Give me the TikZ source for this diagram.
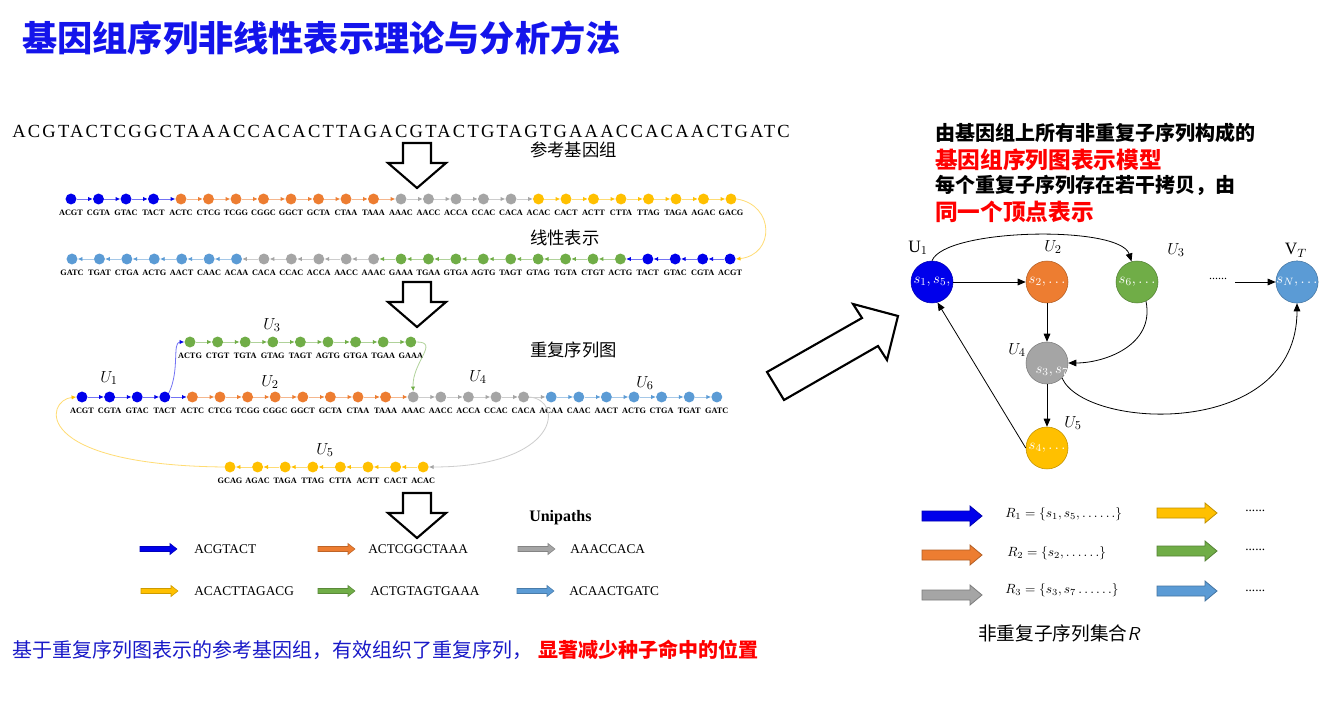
\documentclass[tikz,border=0pt]{standalone}
\usepackage{fontspec}
\setmainfont{Liberation Serif}
\newfontfamily\cjk{Noto Sans CJK SC}
\newfontfamily\seqfont[LetterSpace=12]{Liberation Serif}
\usetikzlibrary{arrows.meta,positioning}

\definecolor{cblue}{RGB}{0,0,235}
\definecolor{corange}{RGB}{237,125,49}
\definecolor{cgray}{RGB}{165,165,165}
\definecolor{cyellow}{RGB}{255,192,0}
\definecolor{cgreen}{RGB}{112,173,71}
\definecolor{clblue}{RGB}{91,155,213}
\definecolor{titleblue}{RGB}{20,20,235}
\definecolor{botblue}{RGB}{25,25,200}

\tikzset{
  kmer/.style={circle, fill=#1, inner sep=0pt, minimum size=8.2pt},
  klab/.style={font=\fontsize{6.2}{7}\selectfont\bfseries, inner sep=0pt},
  kedge/.style={draw=#1!55, line width=0.6pt, -{Latex[length=3.5pt,width=3.2pt,color=#1]}},
  ulab/.style={font=\fontsize{13}{13}\selectfont, inner sep=0pt},
  cjklab/.style={font=\cjk\fontsize{13}{13}\selectfont, inner sep=0pt, anchor=west},
  vnode/.style={circle, minimum size=31.5pt, inner sep=0pt, draw=#1!75!black, fill=#1, text=white, font=\fontsize{11}{11}\selectfont},
  garrow/.style={-{Triangle[length=6pt,width=5pt]}, line width=0.6pt},
  seqtxt/.style={font=\fontsize{10}{10}\selectfont, inner sep=0pt, anchor=west},
  bigdown/.pic={\draw[line width=1.6pt, fill=white] (-14,0) -- (14,0) -- (14,20) -- (29,20) -- (0,45) -- (-29,20) -- (-14,20) -- cycle;},
  uarrow/.pic={\filldraw[fill=#1, draw=#1!80!black, line width=0.4pt] (0,-2.5) -- (30,-2.5) -- (30,-5.5) -- (37,0) -- (30,5.5) -- (30,2.5) -- (0,2.5) -- cycle;},
  rarrow/.pic={\filldraw[fill=#1, draw=#1!75!black, line width=0.6pt] (0,-5) -- (48,-5) -- (48,-10) -- (60,0) -- (48,10) -- (48,5) -- (0,5) -- cycle;}
}

\begin{document}
\begin{tikzpicture}[x=0.75pt,y=-0.75pt]
\useasboundingbox (0,0) rectangle (1332,706);
\fill[white] (0,0) rectangle (1332,706);

% title
\node[anchor=west, inner sep=0pt, font=\cjk\bfseries\fontsize{26.4}{27}\selectfont, text=titleblue] (title) at (22,38) {基因组序列非线性表示理论与分析方法};

% reference genome
\node[anchor=west, inner sep=0pt, font=\seqfont\fontsize{13.9}{14}\selectfont] (seq) at (12,131) {ACGTACTCGGCTAAACCACACTTAGACGTACTGTAGTGAAACCACAACTGATC};
\node[cjklab] (refg) at (530,150) {参考基因组};
\pic at (417,143) {bigdown};

% linear representation, forward row
\foreach \lab/\col [count=\i from 0, remember=\col as \pc (initially cblue)] in {ACGT/cblue,CGTA/cblue,GTAC/cblue,TACT/cblue,ACTC/corange,CTCG/corange,TCGG/corange,CGGC/corange,GGCT/corange,GCTA/corange,CTAA/corange,TAAA/corange,AAAC/cgray,AACC/cgray,ACCA/cgray,CCAC/cgray,CACA/cgray,ACAC/cyellow,CACT/cyellow,ACTT/cyellow,CTTA/cyellow,TTAG/cyellow,TAGA/cyellow,AGAC/cyellow,GACG/cyellow}{
  \node[kmer=\col] (ra\i) at (71+27.5*\i,199) {};
  \node[klab, below=4pt of ra\i] {\lab};
  \ifnum\i>0 \pgfmathtruncatemacro\j{\i-1}\draw[kedge=\pc] (ra\j) -- (ra\i); \fi
}
% linear representation, backward row
\foreach \lab/\col [count=\i from 0] in {GATC/clblue,TGAT/clblue,CTGA/clblue,ACTG/clblue,AACT/clblue,CAAC/clblue,ACAA/clblue,CACA/cgray,CCAC/cgray,ACCA/cgray,AACC/cgray,AAAC/cgray,GAAA/cgreen,TGAA/cgreen,GTGA/cgreen,AGTG/cgreen,TAGT/cgreen,GTAG/cgreen,TGTA/cgreen,CTGT/cgreen,ACTG/cgreen,TACT/cblue,GTAC/cblue,CGTA/cblue,ACGT/cblue}{
  \node[kmer=\col] (rb\i) at (72+27.42*\i,259) {};
  \node[klab, below=4pt of rb\i] {\lab};
  \ifnum\i>0 \pgfmathtruncatemacro\j{\i-1}\draw[kedge=\col] (rb\i) -- (rb\j); \fi
}
\draw[kedge=cyellow] (ra24.east) .. controls (775,205) and (775,255) .. (rb24.east);
\node[cjklab] (linr) at (530,238) {线性表示};
\pic at (417,282) {bigdown};

% repeat graph, main row
\foreach \lab/\col [count=\i from 0, remember=\col as \pc (initially cblue)] in {ACGT/cblue,CGTA/cblue,GTAC/cblue,TACT/cblue,ACTC/corange,CTCG/corange,TCGG/corange,CGGC/corange,GGCT/corange,GCTA/corange,CTAA/corange,TAAA/corange,AAAC/cgray,AACC/cgray,ACCA/cgray,CCAC/cgray,CACA/cgray,ACAA/clblue,CAAC/clblue,AACT/clblue,ACTG/clblue,CTGA/clblue,TGAT/clblue,GATC/clblue}{
  \node[kmer=\col] (rc\i) at (82+27.6*\i,397) {};
  \node[klab, below=4pt of rc\i] {\lab};
  \ifnum\i>0 \pgfmathtruncatemacro\j{\i-1}\draw[kedge=\pc] (rc\j) -- (rc\i); \fi
}
% repeat graph, U3 row
\foreach \lab [count=\i from 0] in {ACTG,CTGT,TGTA,GTAG,TAGT,AGTG,GTGA,TGAA,GAAA}{
  \node[kmer=cgreen] (rd\i) at (190+27.6*\i,342) {};
  \node[klab, below=4pt of rd\i] {\lab};
  \ifnum\i>0 \pgfmathtruncatemacro\j{\i-1}\draw[kedge=cgreen] (rd\j) -- (rd\i); \fi
}
% repeat graph, U5 row
\foreach \lab [count=\i from 0] in {GCAG,AGAC,TAGA,TTAG,CTTA,ACTT,CACT,ACAC}{
  \node[kmer=cyellow] (re\i) at (230+27.6*\i,467) {};
  \node[klab, below=4pt of re\i] {\lab};
  \ifnum\i>0 \pgfmathtruncatemacro\j{\i-1}\draw[kedge=cyellow] (re\i) -- (re\j); \fi
}
\draw[kedge=cblue] (rc3.north east) .. controls (180,370) and (172,342) .. (rd0.west);
\draw[kedge=cgreen] (rd8.east) .. controls (440,342) and (412,362) .. (rc12.north);
\draw[kedge=cgray] (rc16.east) .. controls (565,400) and (560,467) .. (re7.east);
\draw[kedge=cyellow] (re0.west) .. controls (30,465) and (45,400) .. (rc0.west);

\node[ulab] (gu1) at (109,378) {$U_1$};
\node[ulab] (gu2) at (270,382) {$U_2$};
\node[ulab] (gu3) at (272,325) {$U_3$};
\node[ulab] (gu4) at (478,377) {$U_4$};
\node[ulab] (gu6) at (645,383) {$U_6$};
\node[ulab] (gu5) at (325,450) {$U_5$};
\node[cjklab] (rgr) at (530,350) {重复序列图};
\pic at (417,493) {bigdown};

% unipaths
\node[font=\bfseries\fontsize{12}{12}\selectfont, inner sep=0pt, anchor=west] (unip) at (529,518) {Unipaths};
\pic at (140,549) {uarrow=cblue};
\pic at (318,549) {uarrow=corange};
\pic at (518,549) {uarrow=cgray};
\pic at (141,591) {uarrow=cyellow};
\pic at (318,591) {uarrow=cgreen};
\pic at (517,591) {uarrow=clblue};
\node[seqtxt] (up1) at (194,549) {ACGTACT};
\node[seqtxt] (up2) at (368,549) {ACTCGGCTAAA};
\node[seqtxt] (up3) at (570,549) {AAACCACA};
\node[seqtxt] (up4) at (194,591) {ACACTTAGACG};
\node[seqtxt] (up5) at (370,591) {ACTGTAGTGAAA};
\node[seqtxt] (up6) at (569,591) {ACAACTGATC};

% bottom line
\node[anchor=west, inner sep=0pt, font=\cjk\fontsize{15}{15}\selectfont, text=botblue] (bot) at (12,650) {基于重复序列图表示的参考基因组，有效组织了重复序列，};
\node[right=4pt of bot, inner sep=0pt, font=\cjk\bfseries\fontsize{15}{15}\selectfont, text=red] (botr) {显著减少种子命中的位置};

% big diagonal arrow
\draw[line width=1.6pt, fill=white] (767,372) -- (784,400) -- (878,346) -- (887,360) -- (898,316) -- (853,304) -- (862,318) -- cycle;

% right text
\node[anchor=west, inner sep=0pt, font=\cjk\bfseries\fontsize{15}{15}\selectfont] (rt1) at (935,133) {由基因组上所有非重复子序列构成的};
\node[anchor=west, inner sep=0pt, font=\cjk\bfseries\fontsize{17}{17}\selectfont, text=red] (rt2) at (935,160) {基因组序列图表示模型};
\node[anchor=west, inner sep=0pt, font=\cjk\bfseries\fontsize{15}{15}\selectfont] (rt3) at (935,185) {每个重复子序列存在若干拷贝，由};
\node[anchor=west, inner sep=0pt, font=\cjk\bfseries\fontsize{17}{17}\selectfont, text=red] (rt4) at (935,212) {同一个顶点表示};

% sequence graph model
\node[vnode=cblue] (u1) at (932,282) {$s_1,s_5,$};
\node[vnode=corange] (u2) at (1047,282) {$s_2,\ldots$};
\node[vnode=cgreen] (u3) at (1137,282) {$s_6,\ldots$};
\node[vnode=clblue] (vt) at (1297,282) {$s_N,\ldots$};
\node[vnode=cgray] (u4) at (1047,363) {};
\node[text=white, inner sep=0pt, font=\fontsize{11}{11}\selectfont] (u4t) at (1052,372) {$s_3,s_7$};
\node[vnode=cyellow] (u5) at (1047,448) {$s_4,\ldots$};
\node[ulab] (lu1) at (918,248) {U$_1$};
\node[ulab] (lu2) at (1053,247) {$U_2$};
\node[ulab] (lu3) at (1176,250) {$U_3$};
\node[ulab] (lvt) at (1296,250) {V$_T$};
\node[ulab] (lu4) at (1017,350) {$U_4$};
\node[ulab] (lu5) at (1073,423) {$U_5$};
\node[font=\small, inner sep=0pt] (dots) at (1218,279) {......};
\coordinate (vtin) at (1235,282);

\draw[garrow] (u1) -- (u2);
\draw[garrow] (u1.north) .. controls (945,228) and (1120,225) .. (u3.105);
\draw[garrow] (u2) -- (u4);
\draw[garrow] (u3.-65) .. controls (1155,345) and (1105,363) .. (u4.east);
\draw[garrow] (u4.-45) .. controls (1085,430) and (1297,440) .. (vt.south);
\draw[garrow] (u4) -- (u5);
\draw[garrow] (u5.west) -- (u1.-75);
\draw[garrow] (vtin) -- (vt);

% set R
\pic at (922,516) {rarrow=cblue};
\pic at (922,555) {rarrow=corange};
\pic at (922,595) {rarrow=cgray};
\pic at (1157,513) {rarrow=cyellow};
\pic at (1157,551) {rarrow=cgreen};
\pic at (1157,591) {rarrow=clblue};
\node[anchor=west, inner sep=0pt] (r1) at (1005,514) {$R_1=\{s_1,s_5,\ldots\ldots\}$};
\node[anchor=west, inner sep=0pt] (r2) at (1007,553) {$R_2=\{s_2,\ldots\ldots\}$};
\node[anchor=west, inner sep=0pt] (r3) at (1005,590) {$R_3=\{s_3,s_7\ldots\ldots\}$};
\node[anchor=west, inner sep=0pt] (d1) at (1245,511) {......};
\node[anchor=west, inner sep=0pt] (d2) at (1245,550) {......};
\node[anchor=west, inner sep=0pt] (d3) at (1245,591) {......};
\node[anchor=west, inner sep=0pt, font=\cjk\fontsize{14}{14}\selectfont] (rset) at (978,633) {非重复子序列集合\textsf{\textit{R}}};
\end{tikzpicture}
\end{document}
